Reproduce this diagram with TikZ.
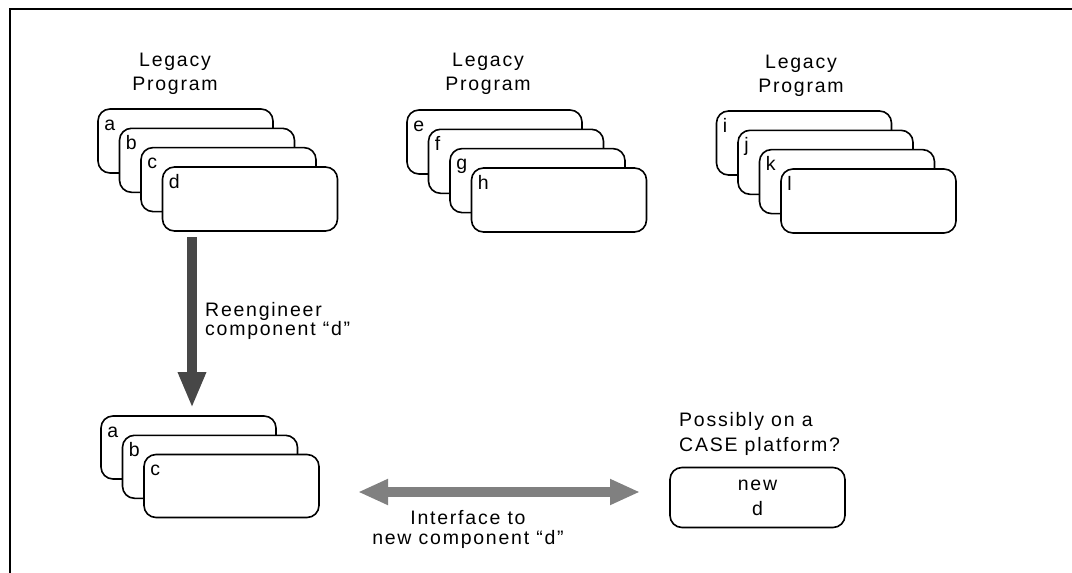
\documentclass[tikz,border=0pt]{standalone}
\usepackage{fontspec}
\setmainfont{Liberation Sans}[LetterSpace=9]
\usetikzlibrary{arrows.meta}
\begin{document}
\begin{tikzpicture}[x=1pt,y=-1pt,
			prog/.style={draw,line width=1.6pt,fill=white,rounded corners=12pt,minimum width=175pt,minimum height=64pt,inner sep=0pt},
			lett/.style={anchor=base west,inner sep=0pt,font=\fontsize{19.5}{24}\selectfont},
			capt/.style={inner sep=0pt,align=center,font=\fontsize{19.5}{24}\selectfont},
			capl/.style={inner sep=0pt,align=left,anchor=north west},
			down/.style={line width=10pt,draw=black!72,-{Triangle[width=26pt,length=36pt]}},
			both/.style={line width=10pt,draw=black!50,{Triangle[width=24pt,length=30pt]}-{Triangle[width=24pt,length=30pt]}}]
			\useasboundingbox (0,0) rectangle (1072,573);
			\draw [line width=1.6pt] (1072,9) -- (10,9) -- (10,573);
			\node [capt,anchor=north] (leg1) at (175,53) {Legacy\\Program};
			\node [capt,anchor=north] (leg2) at (488,53) {Legacy\\Program};
			\node [capt,anchor=north] (leg3) at (801,55) {Legacy\\Program};
			\node [prog] (a1) at (185.5,141) {};
				\node [lett] at ([shift={(7,22)}]a1.north west) {a};
			\node [prog] (b1) at (207,160.3) {};
				\node [lett] at ([shift={(7,22)}]b1.north west) {b};
			\node [prog] (c1) at (228.5,179.6) {};
				\node [lett] at ([shift={(7,22)}]c1.north west) {c};
			\node [prog] (d1) at (250,199) {};
				\node [lett] at ([shift={(7,22)}]d1.north west) {d};
			\node [prog] (e1) at (494.5,142) {};
				\node [lett] at ([shift={(7,22)}]e1.north west) {e};
			\node [prog] (f1) at (516,161.3) {};
				\node [lett] at ([shift={(7,22)}]f1.north west) {f};
			\node [prog] (g1) at (537.5,180.6) {};
				\node [lett] at ([shift={(7,22)}]g1.north west) {g};
			\node [prog] (h1) at (559,200) {};
				\node [lett] at ([shift={(7,22)}]h1.north west) {h};
			\node [prog] (i1) at (804,143) {};
				\node [lett] at ([shift={(7,22)}]i1.north west) {i};
			\node [prog] (j1) at (825.5,162.3) {};
				\node [lett] at ([shift={(7,22)}]j1.north west) {j};
			\node [prog] (k1) at (847,181.6) {};
				\node [lett] at ([shift={(7,22)}]k1.north west) {k};
			\node [prog] (l1) at (868.5,201) {};
				\node [lett] at ([shift={(7,22)}]l1.north west) {l};
			\coordinate (rtop) at (192,237);
			\coordinate (rtip) at (192,408);
			\draw [down] (rtop) -- (rtip);
			\node [capt,capl,font=\fontsize{19.5}{19}\selectfont] (reeng) at (205,302) {Reengineer\\component “d”};
			\node [prog,minimum height=63pt] (a2) at (188.5,447.5) {};
				\node [lett] at ([shift={(7,22)}]a2.north west) {a};
			\node [prog,minimum height=63pt] (b2) at (210,466.8) {};
				\node [lett] at ([shift={(7,22)}]b2.north west) {b};
			\node [prog,minimum height=63pt] (c2) at (231.5,486) {};
				\node [lett] at ([shift={(7,22)}]c2.north west) {c};
			\coordinate (ileft) at (358,492);
			\coordinate (iright) at (640,492);
			\draw [both] (ileft) -- (iright);
			\node [capt,anchor=north,font=\fontsize{19.5}{20}\selectfont] (iface) at (468,510) {Interface to\\new component “d”};
			\node [capt,capl,font=\fontsize{19.5}{25}\selectfont] (case) at (679,412) {Possibly on a\\CASE platform?};
			\node [prog,minimum height=60pt,align=center,font=\fontsize{19.5}{25}\selectfont] (newd) at (757.5,497.5) {new\\d};
		\end{tikzpicture}
\end{document}
